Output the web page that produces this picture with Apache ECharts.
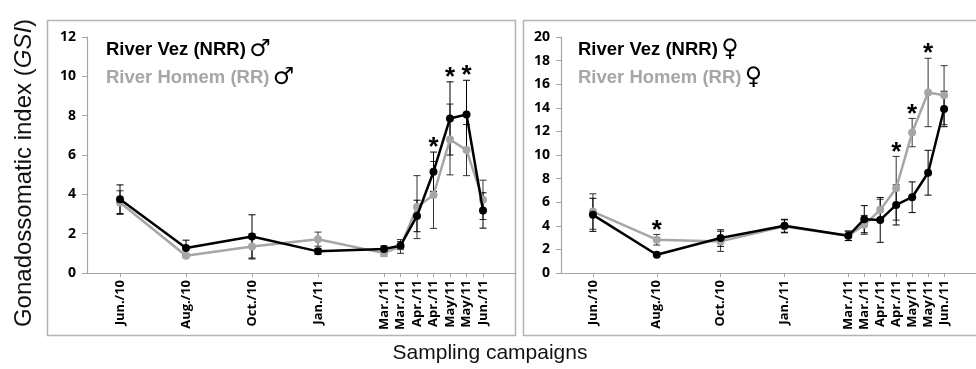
<!DOCTYPE html>
<html><head><meta charset="utf-8">
<script src="https://cdn.jsdelivr.net/npm/echarts@6/dist/echarts.min.js"></script>
<style>html,body{margin:0;padding:0;background:#fff}#c{width:976px;height:369px}</style>
</head><body><div id="c"></div>
<script>
// Sampling positions (relative timeline units) and labels
const positions = [0, 4, 8, 12, 16, 17, 18, 19, 20, 21, 22];
const tickLabels = ['Jun./10','Aug./10','Oct./10','Jan./11','Mar./11','Mar./11','Apr./11','Apr./11','May/11','May/11','Jun./11'];

// Males (GSI)
const maleVez      = [3.75, 1.27, 1.86, 1.10, 1.22, 1.39, 2.90, 5.15, 7.86, 8.06, 3.18];
const maleVezErr   = [0.73, 0.40, 1.10, 0.15, 0.15, 0.20, 0.80, 1.00, 1.86, 1.74, 0.90];
const maleHomem    = [3.58, 0.88, 1.35, 1.72, 1.01, 1.35, 3.35, 3.97, 6.79, 6.25, 3.72];
const maleHomemErr = [0.60, 0.10, 0.64, 0.36, 0.15, 0.35, 1.60, 1.70, 1.80, 1.30, 1.00];
const maleSig      = [0, 0, 0, 0, 0, 0, 0, 1, 1, 1, 0];

// Females (GSI)
const femaleVez      = [4.93, 1.55, 2.96, 4.00, 3.15, 4.56, 4.50, 5.77, 6.42, 8.50, 13.90];
const femaleVezErr   = [1.40, 0.15, 0.70, 0.55, 0.40, 1.15, 1.90, 1.70, 1.30, 1.90, 1.50];
const femaleHomem    = [5.21, 2.82, 2.68, 3.95, 3.15, 4.08, 5.35, 7.18, 11.90, 15.30, 15.07];
const femaleHomemErr = [1.50, 0.45, 0.85, 0.55, 0.40, 0.80, 0.90, 2.70, 1.20, 2.90, 2.50];
const femaleSig      = [0, 1, 0, 0, 0, 0, 0, 1, 1, 1, 0];

const BLACK = '#000000', GRAY = '#a6a6a6';
const labelFont = 'Open Sans';

function pts(vals){ return positions.map((p,i)=>[p, vals[i]]); }
function errData(vals, errs){ return positions.map((p,i)=>[p, vals[i]-errs[i], vals[i]+errs[i]]); }
function errRender(color){
  return function(params, api){
    const x = api.value(0);
    const lo = api.coord([x, api.value(1)]);
    const hi = api.coord([x, api.value(2)]);
    const w = 3.5;
    const st = {stroke: color, lineWidth: 1};
    return {type:'group', children:[
      {type:'line', shape:{x1:lo[0], y1:lo[1], x2:hi[0], y2:hi[1]}, style:st},
      {type:'line', shape:{x1:lo[0]-w, y1:lo[1], x2:lo[0]+w, y2:lo[1]}, style:st},
      {type:'line', shape:{x1:hi[0]-w, y1:hi[1], x2:hi[0]+w, y2:hi[1]}, style:st}
    ]};
  };
}
function starData(a, ae, b, be, sig){
  const out = [];
  positions.forEach((p,i)=>{ if(sig[i]) out.push([p, Math.max(a[i]+ae[i], b[i]+be[i])]); });
  return out;
}
function starRender(params, api){
  const c = api.coord([api.value(0), api.value(1)]);
  return {type:'text', x:c[0], y:c[1]-4, style:{text:'*', fill:'#000', font:'bold 26px "Liberation Sans"', textAlign:'center', textVerticalAlign:'middle'}};
}

function xAxis(gi){
  return {type:'value', gridIndex:gi, min:-2, max:24,
    axisLine:{lineStyle:{color:'#a6a6a6', width:1.2}},
    axisTick:{customValues:positions, length:4, inside:false, lineStyle:{color:'#a6a6a6'}},
    axisLabel:{customValues:positions, rotate:90, margin:7, color:'#000', fontFamily:labelFont, fontWeight:'bold', fontSize:13,
      formatter:function(v){ const k = positions.indexOf(v); return k>=0 ? tickLabels[k] : ''; }},
    splitLine:{show:false}};
}
function yAxis(gi, max){
  return {type:'value', gridIndex:gi, min:0, max:max, interval:2,
    axisLine:{show:true, onZero:false, lineStyle:{color:'#a6a6a6', width:1.2}},
    axisTick:{show:true, length:5, lineStyle:{color:'#a6a6a6'}},
    axisLabel:{margin:11, color:'#000', fontFamily:labelFont, fontWeight:'bold', fontSize:14},
    splitLine:{show:false}};
}
function lineSeries(gi, data, color, z){
  return {type:'line', xAxisIndex:gi, yAxisIndex:gi, data:pts(data), symbol:'circle', symbolSize:8,
    lineStyle:{color:color, width:2.5}, itemStyle:{color:color}, z:z, animation:false};
}
function errSeries(gi, vals, errs, color, z){
  return {type:'custom', xAxisIndex:gi, yAxisIndex:gi, data:errData(vals, errs), renderItem:errRender(color), z:z, animation:false, silent:true};
}
function starSeries(gi, data){
  return {type:'custom', xAxisIndex:gi, yAxisIndex:gi, data:data, renderItem:starRender, z:10, animation:false, silent:true};
}

function legendText(x, y, label, color, sym){
  return {type:'text', left:x, top:y, z:20, style:{
    text:'{a|'+label+'} {s|'+sym+'}',
    rich:{a:{fontFamily:'Liberation Sans', fontWeight:'bold', fontSize:18.5, fill:color},
          s:{fontFamily:'DejaVu Sans', fontSize:24, fill:'#000'}}}};
}

const chart = echarts.init(document.getElementById('c'), null, {renderer:'canvas'});
chart.setOption({
  animation:false,
  backgroundColor:'#fff',
  grid:[
    {left:87, top:37, width:429, height:236},
    {left:561, top:37, width:426, height:236}
  ],
  xAxis:[xAxis(0), xAxis(1)],
  yAxis:[yAxis(0,12), yAxis(1,20)],
  series:[
    errSeries(0, maleHomem, maleHomemErr, '#333', 2),
    errSeries(0, maleVez, maleVezErr, '#000', 2),
    lineSeries(0, maleHomem, GRAY, 3),
    lineSeries(0, maleVez, BLACK, 4),
    starSeries(0, starData(maleVez, maleVezErr, maleHomem, maleHomemErr, maleSig)),
    errSeries(1, femaleHomem, femaleHomemErr, '#333', 2),
    errSeries(1, femaleVez, femaleVezErr, '#000', 2),
    lineSeries(1, femaleHomem, GRAY, 3),
    lineSeries(1, femaleVez, BLACK, 4),
    starSeries(1, starData(femaleVez, femaleVezErr, femaleHomem, femaleHomemErr, femaleSig))
  ],
  graphic:[
    {type:'rect', shape:{x:47.5, y:20.5, width:468, height:315}, style:{fill:null, stroke:'#b4b4b4', lineWidth:1.5}, z:-1, silent:true},
    {type:'rect', shape:{x:523.5, y:20.5, width:470, height:315}, style:{fill:null, stroke:'#b4b4b4', lineWidth:1.5}, z:-1, silent:true},
    legendText(106, 38, 'River Vez (NRR)', '#000', '\u2642'),
    legendText(106, 66, 'River Homem (RR)', GRAY, '\u2642'),
    legendText(578, 38, 'River Vez (NRR)', '#000', '\u2640'),
    legendText(578, 66, 'River Homem (RR)', GRAY, '\u2640'),
    {type:'text', x:24, y:173, rotation:Math.PI/2, z:20, style:{
      text:'{n|Gonadossomatic index (}{i|GSI}{n|)}', textAlign:'center', textVerticalAlign:'middle',
      rich:{n:{fontFamily:'Liberation Sans', fontSize:24, fill:'#111'}, i:{fontFamily:'Liberation Sans', fontStyle:'italic', fontSize:24, fill:'#111'}}}},
    {type:'text', x:490, y:353, z:20, style:{text:'Sampling campaigns', font:'21px "Liberation Sans"', fill:'#111', textAlign:'center', textVerticalAlign:'middle'}}
  ]
});
</script></body></html>
